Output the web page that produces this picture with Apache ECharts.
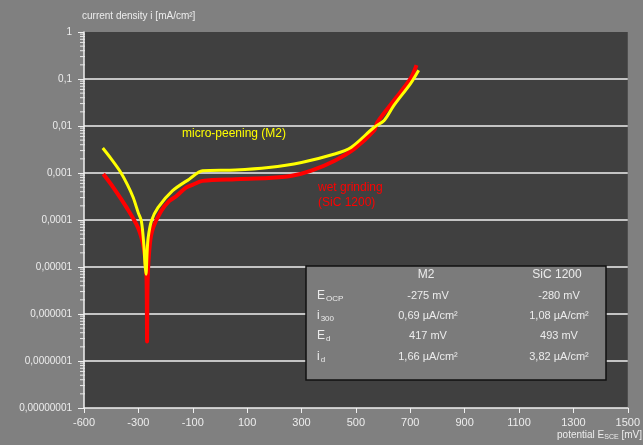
<!DOCTYPE html>
<html>
<head>
<meta charset="utf-8">
<script src="https://cdn.jsdelivr.net/npm/echarts@6/dist/echarts.min.js"></script>
<style>
html,body{margin:0;padding:0;background:#808080;}
#c{width:643px;height:445px;}
</style>
</head>
<body>
<div id="c"></div>
<script>
// ---- data (potential mV, current density mA/cm²) ----
const xTickValues = [-500, -300, -100, 100, 300, 500, 700, 900, 1100, 1300, 1500];
const xTickLabels = ['-600', '-300', '-100', '100', '300', '500', '700', '900', '1100', '1300', '1500'];
const yTickLabels = {
  '1': '1', '0.1': '0,1', '0.01': '0,01', '0.001': '0,001', '0.0001': '0,0001',
  '0.00001': '0,00001', '0.000001': '0,000001', '1e-7': '0,0000001', '1e-8': '0,00000001'
};
const yDecades = [-8, -7, -6, -5, -4, -3, -2, -1];

const m2Potential = [-431, -400, -368, -340, -319, -300, -289, -280, -276, -272, -268, -264, -252, -228, -174, -113, -64, 57, 179, 300, 422, 482, 567, 604, 640, 701, 731];
const m2Current   = [3.4e-3, 2.0e-3, 1.1e-3, 5.6e-4, 3.0e-4, 1.4e-4, 9.5e-5, 3.0e-5, 1.2e-5, 7e-6, 2.0e-5, 4.2e-5, 9.5e-5, 1.83e-4, 4.2e-4, 7.4e-4, 1.12e-3, 1.16e-3, 1.31e-3, 1.68e-3, 2.54e-3, 3.5e-3, 9.4e-3, 1.31e-2, 2.75e-2, 8.0e-2, 0.154];

const sicPotential = [-429, -392, -343, -301, -280, -271, -269, -268, -266, -258, -246, -216, -186, -161, -125, -101, -64, 57, 179, 264, 336, 422, 494, 567, 579, 640, 701, 723];
const sicCurrent   = [9.5e-4, 4.9e-4, 1.83e-4, 6.8e-5, 2.55e-5, 8.1e-6, 2.2e-6, 2.6e-7, 5e-6, 3.0e-5, 6.8e-5, 1.56e-4, 2.55e-4, 3.2e-4, 4.9e-4, 5.6e-4, 6.8e-4, 7.4e-4, 7.8e-4, 8.7e-4, 1.12e-3, 1.83e-3, 3.25e-3, 8.0e-3, 1.2e-2, 3.5e-2, 0.102, 0.197];

const tableHeader = ['M2', 'SiC 1200'];
const tableRowNames = [['E', 'OCP'], ['i', '300'], ['E', 'd'], ['i', 'd']];
const tableM2  = ['-275 mV', '0,69 µA/cm²', '417 mV', '1,66 µA/cm²'];
const tableSiC = ['-280 mV', '1,08 µA/cm²', '493 mV', '3,82 µA/cm²'];

// ---- build ----
const zip = (a, b) => a.map((v, i) => [v, b[i]]);
const minorTicks = [];
yDecades.forEach(d => { for (let k = 2; k <= 9; k++) minorTicks.push([xTickValues[0], k * Math.pow(10, d)]); });

const FONT = 'Liberation Sans, Arial, sans-serif';
const TXT = '#ececec';

const chart = echarts.init(document.getElementById('c'), null, {renderer: 'canvas'});

const tableElems = [];
const tx = 306, ty = 266;
tableElems.push({type: 'rect', z: 100, shape: {x: tx, y: ty, width: 300, height: 114},
  style: {fill: '#7b7b7b', stroke: '#111', lineWidth: 1.5}});
const colX = [426, 557];
tableHeader.forEach((h, i) => tableElems.push({type: 'text', z: 101, x: colX[i], y: 275,
  style: {text: h, fill: TXT, font: '12px ' + FONT, align: 'center', verticalAlign: 'middle'}}));
const rowY = [296, 316, 336, 357];
tableRowNames.forEach((r, i) => {
  tableElems.push({type: 'text', z: 101, x: 317, y: rowY[i], style: {
    text: '{m|' + r[0] + '}{s|' + r[1] + '}', verticalAlign: 'middle', align: 'left',
    rich: {m: {fill: TXT, font: '12px ' + FONT}, s: {fill: TXT, font: '8px ' + FONT, padding: [6, 0, 0, 1]}}}});
  tableElems.push({type: 'text', z: 101, x: colX[0] + 2, y: rowY[i], style: {text: tableM2[i], fill: TXT,
    font: '11px ' + FONT, align: 'center', verticalAlign: 'middle'}});
  tableElems.push({type: 'text', z: 101, x: colX[1] + 2, y: rowY[i], style: {text: tableSiC[i], fill: TXT,
    font: '11px ' + FONT, align: 'center', verticalAlign: 'middle'}});
});

chart.setOption({
  backgroundColor: '#808080',
  animation: false,
  grid: {left: 84, right: 11, top: 32, bottom: 37, show: true, backgroundColor: '#404040', borderWidth: 0},
  xAxis: {
    type: 'value', min: xTickValues[0], max: xTickValues[xTickValues.length - 1], interval: 200,
    axisLine: {show: true, onZero: false, lineStyle: {color: '#f0f0f0', width: 1.5}},
    axisTick: {show: true, length: 5, lineStyle: {color: '#f0f0f0', width: 1}},
    axisLabel: {color: TXT, fontFamily: FONT, fontSize: 11, margin: 9,
      formatter: v => { const i = xTickValues.indexOf(v); return i >= 0 ? xTickLabels[i] : ''; }},
    splitLine: {show: false}
  },
  yAxis: {
    type: 'log', min: 1e-8, max: 1, logBase: 10,
    name: 'current density i [mA/cm²]', nameLocation: 'end', nameGap: 11,
    nameTextStyle: {color: TXT, fontFamily: FONT, fontSize: 10, align: 'left', padding: [0, 0, 0, -2]},
    axisLine: {show: true, onZero: false, lineStyle: {color: '#f0f0f0', width: 1.5}},
    axisTick: {show: true, length: 6, lineStyle: {color: '#f0f0f0', width: 1}},
    axisLabel: {color: TXT, fontFamily: FONT, fontSize: 10, margin: 12,
      formatter: v => { const k = String(Number(v.toPrecision(1))); return yTickLabels[k] !== undefined ? yTickLabels[k] : ''; }},
    splitLine: {show: true, showMaxLine: false, showMinLine: false, lineStyle: {color: '#c4c4c4', width: 2}}
  },
  series: [
    {
      type: 'custom', silent: true, clip: false, data: minorTicks,
      renderItem: (params, api) => {
        const p = api.coord([api.value(0), api.value(1)]);
        return {type: 'line', shape: {x1: p[0] - 4, y1: p[1], x2: p[0] + 1, y2: p[1]},
          style: {stroke: '#e8e8e8', lineWidth: 1}};
      }
    },
    {
      name: 'wet grinding (SiC 1200)', type: 'line', data: zip(sicPotential, sicCurrent),
      showSymbol: false, symbol: 'none', smooth: 0.3, lineStyle: {color: '#ff0000', width: 4}
    },
    {
      name: 'micro-peening (M2)', type: 'line', data: zip(m2Potential, m2Current),
      showSymbol: false, symbol: 'none', smooth: 0.3, lineStyle: {color: '#ffff00', width: 3}
    }
  ],
  graphic: [
    {type: 'text', left: 182, top: 128, style: {text: 'micro-peening (M2)', fill: '#ffff00', font: '12px ' + FONT}},
    {type: 'text', left: 318, top: 180, style: {text: 'wet grinding\n(SiC 1200)', fill: '#ff0000', font: '12px ' + FONT, lineHeight: 15}},
    {type: 'text', right: 1, top: 430, style: {
      text: '{m|potential E}{s|SCE}{m| [mV]}',
      rich: {m: {fill: TXT, font: '10px ' + FONT}, s: {fill: TXT, font: '7px ' + FONT, padding: [5, 0, 0, 0]}}}},
    {type: 'group', z: 100, children: tableElems}
  ]
});
</script>
</body>
</html>
